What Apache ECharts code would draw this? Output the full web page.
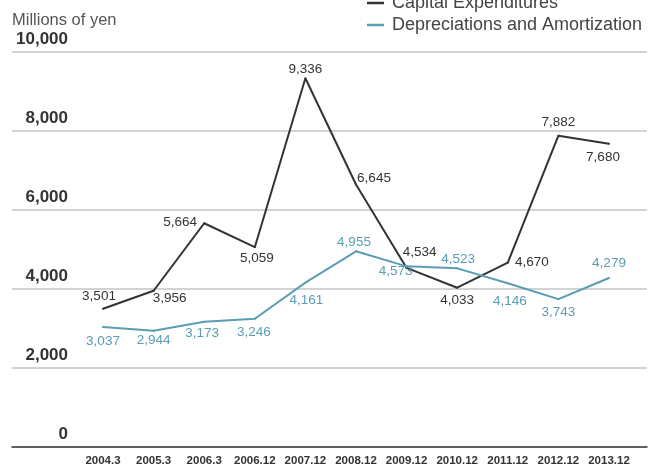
<!DOCTYPE html>
<html>
<head>
<meta charset="utf-8">
<script src="https://cdn.jsdelivr.net/npm/echarts@6/dist/echarts.min.js"></script>
<style>
html,body{margin:0;padding:0;background:#fff;}
#chart{width:652px;height:467px;}
</style>
</head>
<body>
<div id="chart"></div>
<script>
var categories = ['2004.3','2005.3','2006.3','2006.12','2007.12','2008.12','2009.12','2010.12','2011.12','2012.12','2013.12'];
var capitalExpenditures = [3501, 3956, 5664, 5059, 9336, 6645, 4534, 4033, 4670, 7882, 7680];
var depreciation = [3037, 2944, 3173, 3246, 4161, 4955, 4573, 4523, 4146, 3743, 4279];
var yTickValues = [0, 2000, 4000, 6000, 8000, 10000];
var yTickLabels = ['0', '2,000', '4,000', '6,000', '8,000', '10,000'];
var seriesNames = ['Capital Expenditures', 'Depreciations and Amortization'];

// label placement (style config, offsets in px from the point)
var capOffsets = [[-4,-12],[16,8],[-24,-1],[2,11],[0,-9],[18,-6],[13,-16],[0,13],[24,0],[0,-13],[-6,14]];
var depOffsets = [[0,14],[0,10],[-2,12],[-1,13],[1,18],[-2,-9],[-11,5],[1,-9],[2,18],[0,13],[0,-15]];

var FONT = '"Liberation Sans", Arial, Helvetica, sans-serif';
var DARK = '#333333';
var TEAL = '#5a9db4';

function fmt(v) { return v.toString().replace(/\B(?=(\d{3})+(?!\d))/g, ','); }

function buildData(vals, offs) {
  return vals.map(function (v, i) {
    return { value: v, label: { offset: offs[i] } };
  });
}

var chart = echarts.init(document.getElementById('chart'), null, {renderer: 'canvas'});
var option = {
  animation: false,
  backgroundColor: '#fff',
  title: {
    text: 'Millions of yen',
    left: 12, top: 12, padding: 0,
    textStyle: { fontFamily: FONT, fontSize: 16.5, fontWeight: 'normal', color: '#555' }
  },
  legend: {
    orient: 'vertical',
    left: 367, top: -6, padding: 0,
    itemWidth: 17, itemHeight: 2.5, itemGap: 4,
    icon: 'rect',
    data: seriesNames,
    textStyle: { fontFamily: FONT, fontSize: 18, color: '#444', padding: [0,0,0,3] }
  },
  grid: [
    { left: 12, right: 5, top: 52, bottom: 20 },
    { left: 103, right: 43, top: 52, bottom: 20 }
  ],
  xAxis: [
    { gridIndex: 0, type: 'value', min: 0, max: 1,
      axisLine: { show: true, onZero: false, lineStyle: { color: '#3a3a3a', width: 1.5 } },
      axisTick: { show: false }, axisLabel: { show: false }, splitLine: { show: false } },
    { gridIndex: 1, type: 'category', data: categories, boundaryGap: false,
      axisLine: { show: false }, axisTick: { show: false }, splitLine: { show: false },
      axisLabel: { interval: 0, fontFamily: FONT, fontSize: 11.5, fontWeight: 'bold', color: '#333', margin: 8 } }
  ],
  yAxis: [
    { gridIndex: 0, type: 'value', min: 0, max: 10000, interval: 2000,
      axisLine: { show: false }, axisTick: { show: false },
      splitLine: { show: true, lineStyle: { color: '#c4c4c4', width: 1.5 } },
      axisLabel: {
        formatter: function (v) { var i = yTickValues.indexOf(v); return i >= 0 ? yTickLabels[i] : ''; },
        fontFamily: FONT, fontSize: 17, fontWeight: 'bold', color: '#333',
        align: 'right', verticalAlign: 'bottom', margin: -56, padding: [0,0,4,0]
      } },
    { gridIndex: 1, type: 'value', min: 0, max: 10000, interval: 2000,
      axisLine: { show: false }, axisTick: { show: false }, axisLabel: { show: false }, splitLine: { show: false } }
  ],
  series: [
    { name: seriesNames[0], type: 'line', xAxisIndex: 1, yAxisIndex: 1,
      data: buildData(capitalExpenditures, capOffsets),
      symbol: 'circle', symbolSize: 2, color: DARK,
      lineStyle: { color: DARK, width: 2 },
      label: { show: true, position: 'inside', formatter: function (p) { return fmt(p.value); },
        fontFamily: FONT, fontSize: 13.5, color: DARK } },
    { name: seriesNames[1], type: 'line', xAxisIndex: 1, yAxisIndex: 1,
      data: buildData(depreciation, depOffsets),
      symbol: 'circle', symbolSize: 2, color: TEAL,
      lineStyle: { color: TEAL, width: 2 },
      label: { show: true, position: 'inside', formatter: function (p) { return fmt(p.value); },
        fontFamily: FONT, fontSize: 13.5, color: TEAL } }
  ]
};
chart.setOption(option);
</script>
</body>
</html>
